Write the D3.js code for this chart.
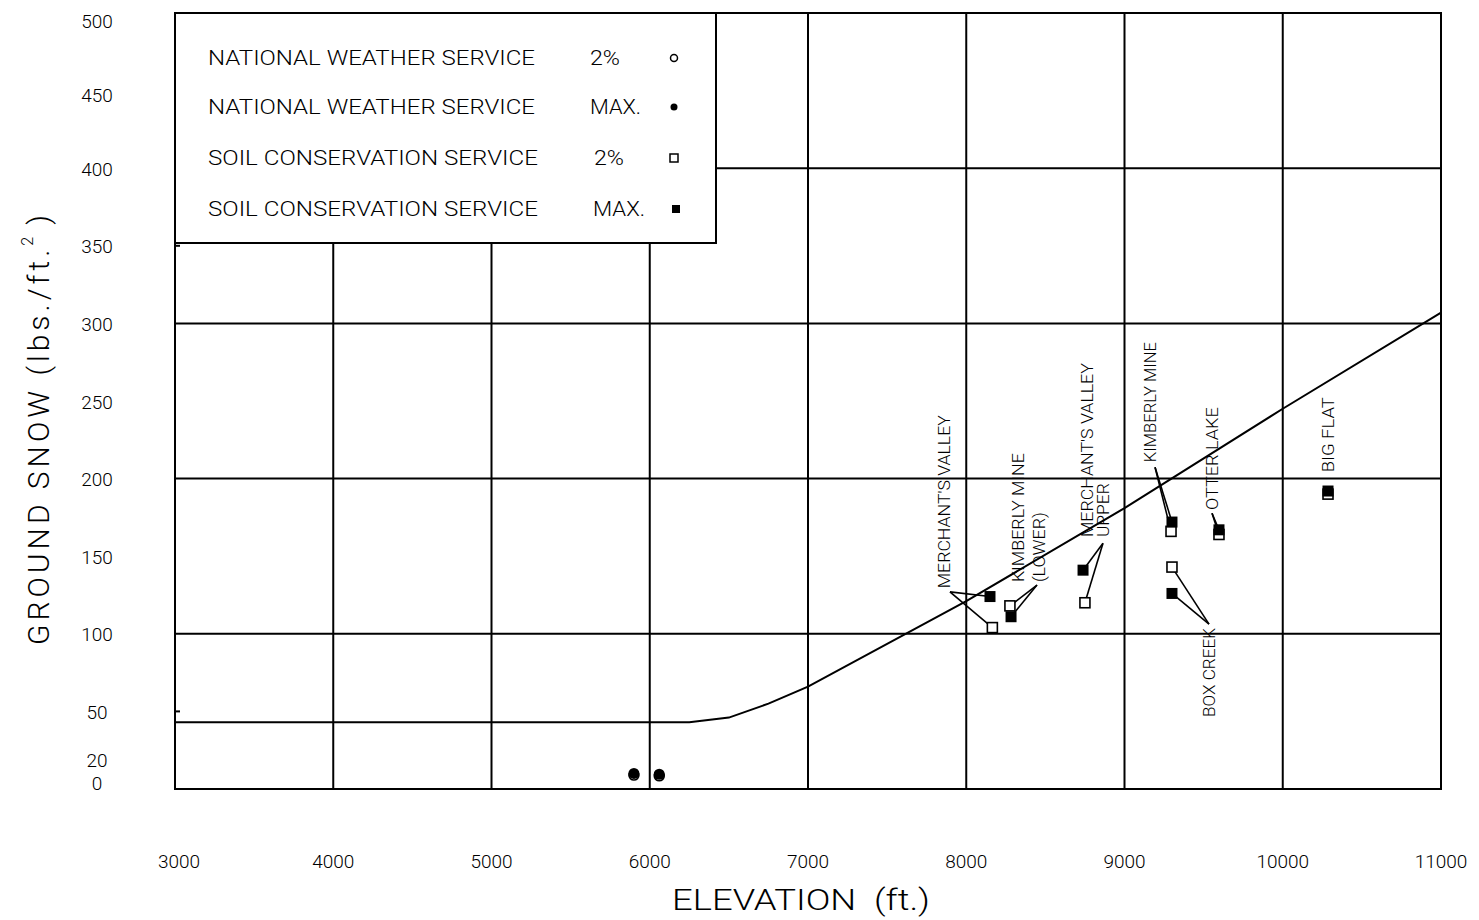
<!DOCTYPE html>
<html>
<head>
<meta charset="utf-8">
<script src="https://cdn.jsdelivr.net/npm/d3@7/dist/d3.min.js"></script>
<style>
  html, body { margin: 0; padding: 0; background: #fff; }
  svg { display: block; }
  text { font-family: Roboto, "Liberation Sans", Arial, sans-serif; font-weight: 300; fill: #000; }
</style>
</head>
<body>
<svg id="chart" width="1479" height="920"></svg>
<script>
// Axis ticks and gridlines
const elevTicks = [3000, 4000, 5000, 6000, 7000, 8000, 9000, 10000, 11000];
const snowTicks = [0, 20, 50, 100, 150, 200, 250, 300, 350, 400, 450, 500];
const elevGrid = [4000, 5000, 6000, 7000, 8000, 9000, 10000];
const snowGrid = [100, 200, 300, 400];
const snowMinorTicks = [50, 350];

// Design ground snow load curve (elevation ft, lbs/ft^2)
const curveElev = [3000, 6250, 6500, 6750, 7000, 8000, 9000, 10000, 11000];
const curveSnow = [43, 43, 46, 55, 66, 121, 181, 245, 307];

// National Weather Service stations
const nwsElev = [5900, 6060];
const nws2pct = [9, 8.5];
const nwsMax = [10, 9.5];

// Soil Conservation Service snow courses
const sites = ["MERCHANT'S VALLEY", "KIMBERLY MINE (LOWER)", "MERCHANT'S VALLEY UPPER",
               "KIMBERLY MINE", "BOX CREEK", "OTTER LAKE", "BIG FLAT"];
const scs2Elev = [8165, 8276, 8750, 9294, 9300, 9597, 10286];
const scs2pct  = [104, 118, 120, 166, 143, 164, 190];
const scsMaxElev = [8150, 8283, 8738, 9300, 9300, 9597, 10286];
const scsMax   = [124, 111, 141, 172, 126, 167, 192];

// Legend entries
const legendNames = ["NATIONAL WEATHER SERVICE", "NATIONAL WEATHER SERVICE",
                     "SOIL CONSERVATION SERVICE", "SOIL CONSERVATION SERVICE"];
const legendKinds = ["2%", "MAX.", "2%", "MAX."];

const svg = d3.select("#chart");
const x = d3.scaleLinear().domain([3000, 11000]).range([175, 1441]);
const y = d3.scaleLinear().domain([0, 500]).range([789, 13]);

const ink = "#000";

// gridlines
const grid = svg.append("g").attr("stroke", ink).attr("stroke-width", 2);
grid.selectAll("line.v").data(elevGrid).join("line")
  .attr("x1", d => x(d)).attr("x2", d => x(d))
  .attr("y1", y(500)).attr("y2", y(0));
grid.selectAll("line.h").data(snowGrid).join("line")
  .attr("y1", d => y(d)).attr("y2", d => y(d))
  .attr("x1", x(3000)).attr("x2", x(11000));
grid.selectAll("line.m").data(snowMinorTicks).join("line")
  .attr("y1", d => y(d)).attr("y2", d => y(d))
  .attr("x1", x(3000)).attr("x2", x(3000) + 5);

// design curve
const curve = d3.line().x((d, i) => x(curveElev[i])).y((d, i) => y(curveSnow[i]));
svg.append("path").datum(curveElev)
  .attr("d", curve).attr("fill", "none").attr("stroke", ink).attr("stroke-width", 2);

// plot frame
svg.append("rect")
  .attr("x", x(3000)).attr("y", y(500))
  .attr("width", x(11000) - x(3000)).attr("height", y(0) - y(500))
  .attr("fill", "none").attr("stroke", ink).attr("stroke-width", 2);

// y tick labels (a few nudged apart where they crowd)
const yNudge = v => (v === 500 ? 8 : v === 450 ? 5 : v === 20 ? 3 : v === 0 ? -6 : 1);
svg.append("g").selectAll("text").data(snowTicks).join("text")
  .attr("x", 97).attr("y", d => y(d) + yNudge(d))
  .attr("text-anchor", "middle").attr("dominant-baseline", "central")
  .attr("font-size", 19).text(d => d);

// x tick labels
svg.append("g").selectAll("text").data(elevTicks).join("text")
  .attr("x", d => x(d) + (d === 3000 ? 4 : 0)).attr("y", 861)
  .attr("text-anchor", "middle").attr("dominant-baseline", "central")
  .attr("font-size", 19).text(d => d);

// axis titles
svg.append("text")
  .attr("x", 801).attr("y", 899)
  .attr("text-anchor", "middle").attr("dominant-baseline", "central")
  .attr("font-size", 30).attr("textLength", 258).attr("lengthAdjust", "spacingAndGlyphs")
  .attr("xml:space", "preserve")
  .text("ELEVATION  (ft.)");

const yt = svg.append("text")
  .attr("transform", "translate(38,430) rotate(-90)")
  .attr("text-anchor", "middle").attr("dominant-baseline", "central")
  .attr("font-size", 30).attr("textLength", 430).attr("lengthAdjust", "spacing");
yt.append("tspan").text("GROUND SNOW (lbs./ft.");
yt.append("tspan").attr("font-size", 16).attr("dy", -11).text("2");
yt.append("tspan").attr("dy", 11).attr("dx", 8).text(")");

// site annotations: text start (elev, snow), column gap, leader apex, and marker site
const annotations = [
  { lines: ["MERCHANT'S VALLEY"], lens: [173], at: [7860, 129.4], gap: 0, apex: [7897, 127], site: 0 },
  { lines: ["KIMBERLY MINE", "(LOWER)"], lens: [129, 70], at: [8327, 133.3], gap: 21, apex: [8447, 131.4], site: 1 },
  { lines: ["MERCHANT'S VALLEY", "UPPER"], lens: [174, 54], at: [8763, 162.3], gap: 16, apex: [8864, 158.4], site: 2 },
  { lines: ["KIMBERLY MINE"], lens: [120], at: [9161, 210.6], gap: 0, apex: [9193, 207.3], site: 3 },
  { lines: ["BOX CREEK"], lens: [89], at: [9534, 46.4], gap: 0, apex: [9534, 106.2], site: 4 },
  { lines: ["OTTER LAKE"], lens: [103], at: [9553, 179.7], gap: 0, apex: [9553, 177.7], site: 5 },
  { lines: ["BIG FLAT"], lens: [75], at: [10286, 204.1], gap: 0, apex: null, site: 6 }
];

const ann = svg.append("g");
annotations.forEach(a => {
  a.lines.forEach((t, k) => {
    ann.append("text")
      .attr("transform", `translate(${x(a.at[0]) + k * a.gap},${y(a.at[1])}) rotate(-90)`)
      .attr("text-anchor", "start").attr("dominant-baseline", "central")
      .attr("font-size", 17).attr("font-weight", 400)
      .attr("textLength", a.lens[k]).attr("lengthAdjust", "spacingAndGlyphs")
      .text(t);
  });
  if (a.apex) {
    const ax = x(a.apex[0]), ay = y(a.apex[1]);
    [[scs2Elev[a.site], scs2pct[a.site]], [scsMaxElev[a.site], scsMax[a.site]]].forEach(p => {
      ann.append("line")
        .attr("x1", ax).attr("y1", ay)
        .attr("x2", x(p[0])).attr("y2", y(p[1]))
        .attr("stroke", ink).attr("stroke-width", 1.6);
    });
  }
});

// markers
const sq = 10;
svg.append("g").selectAll("rect").data(sites).join("rect")
  .attr("x", (d, i) => x(scs2Elev[i]) - sq / 2).attr("y", (d, i) => y(scs2pct[i]) - sq / 2)
  .attr("width", sq).attr("height", sq)
  .attr("fill", "#fff").attr("stroke", ink).attr("stroke-width", 1.6);
svg.append("g").selectAll("rect").data(sites).join("rect")
  .attr("x", (d, i) => x(scsMaxElev[i]) - sq / 2 - 0.5).attr("y", (d, i) => y(scsMax[i]) - sq / 2 - 0.5)
  .attr("width", sq + 1).attr("height", sq + 1)
  .attr("fill", ink);

svg.append("g").selectAll("circle").data(nwsElev).join("circle")
  .attr("cx", d => x(d)).attr("cy", (d, i) => y(nws2pct[i]))
  .attr("r", 5).attr("fill", "#fff").attr("stroke", ink).attr("stroke-width", 1.6);
svg.append("g").selectAll("circle").data(nwsElev).join("circle")
  .attr("cx", d => x(d)).attr("cy", (d, i) => y(nwsMax[i]))
  .attr("r", 5.5).attr("fill", ink);

// legend
const lg = svg.append("g");
lg.append("rect")
  .attr("x", x(3000)).attr("y", y(500))
  .attr("width", 716 - x(3000)).attr("height", 243 - y(500))
  .attr("fill", "#fff").attr("stroke", ink).attr("stroke-width", 2);
const rowY = [58, 107, 158, 209];
const nameLen = [327, 327, 330, 330];
const kindX = [590, 590, 594, 593];
const kindLen = [30, 51, 30, 52];
legendNames.forEach((n, i) => {
  lg.append("text").attr("x", 208).attr("y", rowY[i])
    .attr("dominant-baseline", "central").attr("font-size", 21)
    .attr("textLength", nameLen[i]).attr("lengthAdjust", "spacingAndGlyphs").text(n);
  lg.append("text").attr("x", kindX[i]).attr("y", rowY[i])
    .attr("dominant-baseline", "central").attr("font-size", 21)
    .attr("textLength", kindLen[i]).attr("lengthAdjust", "spacingAndGlyphs").text(legendKinds[i]);
});
lg.append("circle").attr("cx", 674).attr("cy", rowY[0]).attr("r", 3.5)
  .attr("fill", "#fff").attr("stroke", ink).attr("stroke-width", 1.5);
lg.append("circle").attr("cx", 674).attr("cy", rowY[1]).attr("r", 3.5).attr("fill", ink);
lg.append("rect").attr("x", 670).attr("y", rowY[2] - 4).attr("width", 8).attr("height", 8)
  .attr("fill", "#fff").attr("stroke", ink).attr("stroke-width", 1.5);
lg.append("rect").attr("x", 672).attr("y", rowY[3] - 4).attr("width", 8).attr("height", 8)
  .attr("fill", ink);
</script>
</body>
</html>
